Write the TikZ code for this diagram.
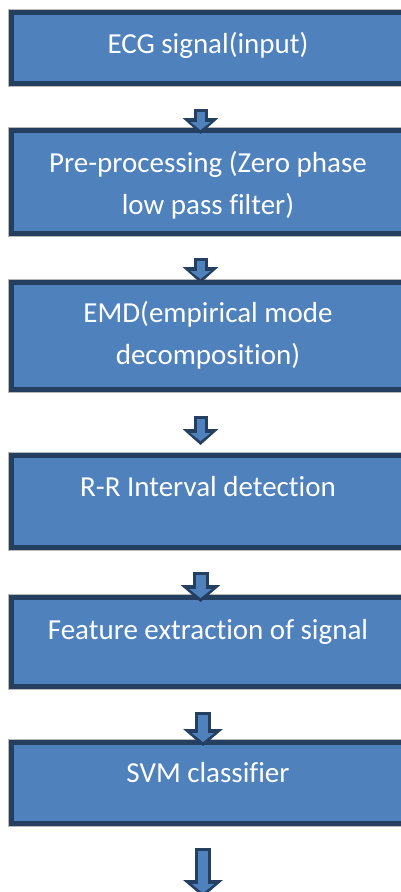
\documentclass[tikz,border=0pt]{standalone}
\usepackage{fontspec}
\setmainfont{Carlito}[Ligatures=NoCommon]
\usepackage{tikz}
\usetikzlibrary{arrows.meta}
\usetikzlibrary{positioning}

\definecolor{boxblue}{HTML}{4F81BD}
\definecolor{boxedge}{HTML}{243F60}

\begin{document}
\begin{tikzpicture}
  [
    box/.style = {draw=boxedge, fill=boxblue, line width=5pt, text=white,
                  minimum width=393pt, inner sep=0pt, align=center,
                  font=\fontsize{29pt}{42pt}\selectfont,
                  preaction={draw=gray!55, line width=7pt}},
    smallarrow/.style = {draw=boxblue, line width=8pt,
                  -{Triangle[width=20pt,length=8pt]}, shorten <=3pt, shorten >=4pt,
                  preaction={draw=boxedge, line width=14pt,
                  -{Triangle[width=35pt,length=16pt]}, shorten <=0pt, shorten >=0pt}},
    bigarrow/.style = {draw=boxblue, line width=10pt,
                  -{Triangle[width=22pt,length=9pt]}, shorten <=3pt, shorten >=4pt,
                  preaction={draw=boxedge, line width=16pt,
                  -{Triangle[width=39pt,length=17pt]}, shorten <=0pt, shorten >=0pt}},
  ]
  \useasboundingbox (0pt,0pt) rectangle (401pt,-892pt);

  \node[box, anchor=north, text height=40.5pt, text depth=30.5pt] (ecg) at (208pt,-10pt) {ECG signal(input)};
  \node[box, text height=83.5pt, text depth=19.5pt] [below = 42pt of ecg] (prep) {Pre-processing (Zero phase\\low pass filter)};
  \node[box, text height=81.5pt, text depth=25.5pt] [below = 44pt of prep] (emd) {EMD(empirical mode\\decomposition)};
  \node[box, text height=40.5pt, text depth=51.5pt] [below = 61pt of emd] (rr) {R-R Interval detection};
  \node[box, text height=41.5pt, text depth=47.5pt] [below = 45pt of rr] (feat) {Feature extraction of signal};
  \node[box, text height=39.5pt, text depth=41.5pt] [below = 51pt of feat] (svm) {SVM classifier};

  \coordinate (out) at ([xshift=-5pt, yshift=-71pt]svm.south);

  % block arrows between the steps
  \draw[smallarrow] ([xshift=-7.5pt, yshift=-23pt]ecg.south) -- ([xshift=-7.5pt, yshift=-6pt]prep.north);
  \draw[smallarrow] ([xshift=-7.5pt, yshift=-22pt]prep.south) -- ([xshift=-7.5pt, yshift=-3pt]emd.north);
  \draw[smallarrow] ([xshift=-7.5pt, yshift=-24pt]emd.south) -- ([xshift=-7.5pt, yshift=8pt]rr.north);
  \draw[bigarrow] ([xshift=-7.5pt, yshift=-22pt]rr.south) -- ([xshift=-7.5pt, yshift=-7pt]feat.north);
  \draw[bigarrow] ([xshift=-5pt, yshift=-23pt]feat.south) -- ([xshift=-5pt, yshift=-6pt]svm.north);
  \draw[bigarrow] ([xshift=-5pt, yshift=-22pt]svm.south) -- (out);
\end{tikzpicture}
\end{document}
